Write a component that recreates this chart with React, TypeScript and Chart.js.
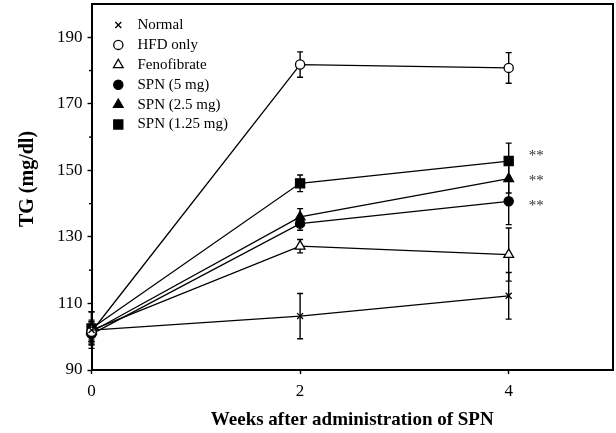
import React, { useEffect, useRef } from 'react';
import { Chart, registerables } from 'chart.js';
import { drawPoint } from 'chart.js/helpers';

Chart.register(...registerables);

const FONT = '"Liberation Serif", "Times New Roman", serif';

// ---- data ----
const weeks = [0, 2, 4];
const seriesLabels = ['Normal', 'HFD only', 'Fenofibrate', 'SPN (5 mg)', 'SPN (2.5 mg)', 'SPN (1.25 mg)'];
const normal = [102, 106.2, 112.3];
const normalErr = [5.5, 6.8, 7];
const hfdOnly = [101.5, 181.8, 180.8];
const hfdOnlyErr = [3, 3.8, 4.6];
const fenofibrate = [102, 127.2, 124.7];
const fenofibrateErr = [3, 2, 8];
const spn5 = [100.8, 134, 140.7];
const spn5Err = [3, 2, 7];
const spn25 = [101.5, 136, 147.5];
const spn25Err = [3, 2.5, 4.3];
const spn125 = [102.5, 146.1, 152.8];
const spn125Err = [5, 2.5, 5.4];

const yMajorTicks = [90, 110, 130, 150, 170, 190];
const yMinorTicks = [100, 120, 140, 160, 180];
const xTickValues = [0, 2, 4];
const sigWeek = 4;
const sigValues = [155.3, 147.8, 140.2];
const sigText = '**';

const yTitle = 'TG (mg/dl)';
const xTitle = 'Weeks after administration of SPN';

// ---- styles ----
const seriesValues = [normal, hfdOnly, fenofibrate, spn5, spn25, spn125];
const seriesErrors = [normalErr, hfdOnlyErr, fenofibrateErr, spn5Err, spn25Err, spn125Err];
const pointStyles = ['crossRot', 'circle', 'triangle', 'circle', 'triangle', 'rect'];
const pointFills = ['#000', '#fff', '#fff', '#000', '#000', '#000'];
const pointRadii = [4.2, 4.6, 5.6, 4.6, 5.6, 6.4];

const overlay = {
  id: 'overlay',
  beforeDatasetsDraw(chart: any) {
    const ctx = chart.ctx;
    const xs = chart.scales.x;
    const ys = chart.scales.y;
    ctx.save();
    ctx.strokeStyle = '#000';
    ctx.lineWidth = 1.4;
    seriesValues.forEach((vals, i) => {
      vals.forEach((v, j) => {
        const e = seriesErrors[i][j];
        const px = xs.getPixelForValue(weeks[j]);
        const pt = ys.getPixelForValue(v + e);
        const pb = ys.getPixelForValue(v - e);
        ctx.beginPath();
        ctx.moveTo(px, pt);
        ctx.lineTo(px, pb);
        ctx.moveTo(px - 3, pt);
        ctx.lineTo(px + 3, pt);
        ctx.moveTo(px - 3, pb);
        ctx.lineTo(px + 3, pb);
        ctx.stroke();
      });
    });
    ctx.restore();
  },
  afterDraw(chart: any) {
    const ctx = chart.ctx;
    const a = chart.chartArea;
    const xs = chart.scales.x;
    const ys = chart.scales.y;
    ctx.save();
    // top and right border
    ctx.strokeStyle = '#000';
    ctx.lineWidth = 2;
    ctx.beginPath();
    ctx.moveTo(a.left, a.top);
    ctx.lineTo(a.right, a.top);
    ctx.lineTo(a.right, a.bottom);
    ctx.stroke();
    // minor ticks
    ctx.lineWidth = 1.4;
    yMinorTicks.forEach((v) => {
      const py = ys.getPixelForValue(v);
      ctx.beginPath();
      ctx.moveTo(a.left - 2.5, py);
      ctx.lineTo(a.left, py);
      ctx.stroke();
    });
    // legend
    ctx.font = `15px ${FONT}`;
    ctx.textBaseline = 'middle';
    ctx.textAlign = 'left';
    seriesLabels.forEach((lab, i) => {
      const y = a.top + 21 + i * 19.9;
      const x = a.left + 26.8;
      ctx.fillStyle = pointFills[i];
      ctx.strokeStyle = '#000';
      ctx.lineWidth = 1.3;
      drawPoint(ctx, { pointStyle: pointStyles[i], radius: pointRadii[i], rotation: 0, borderWidth: 1.3 } as any, x, y);
      ctx.fillStyle = '#000';
      ctx.fillText(lab, a.left + 46, y);
    });
    // significance marks
    ctx.fillStyle = '#333';
    ctx.font = `15px ${FONT}`;
    ctx.textAlign = 'left';
    ctx.textBaseline = 'middle';
    sigValues.forEach((v) => {
      ctx.fillText(sigText, xs.getPixelForValue(sigWeek) + 20, ys.getPixelForValue(v) + 3);
    });
    // axis titles
    ctx.fillStyle = '#000';
    ctx.font = `bold 19px ${FONT}`;
    ctx.textAlign = 'center';
    ctx.textBaseline = 'middle';
    ctx.fillText(xTitle, (a.left + a.right) / 2, 420);
    ctx.translate(28, 179);
    ctx.rotate(-Math.PI / 2);
    ctx.font = `bold 20px ${FONT}`;
    ctx.fillText(yTitle, 0, 0);
    ctx.restore();
  },
};

export default function App() {
  const ref = useRef<HTMLCanvasElement | null>(null);
  useEffect(() => {
    if (!ref.current) return;
    const chart = new Chart(ref.current, {
      type: 'line',
      data: {
        datasets: seriesLabels.map((lab, i) => ({
          label: lab,
          data: seriesValues[i].map((v, j) => ({ x: weeks[j], y: v })),
          borderColor: '#000',
          borderWidth: 1.3,
          backgroundColor: pointFills[i],
          pointStyle: pointStyles[i] as any,
          pointRadius: pointRadii[i],
          pointBorderColor: '#000',
          pointBackgroundColor: pointFills[i],
          pointBorderWidth: 1.3,
          tension: 0,
          fill: false,
          clip: false as any,
        })),
      },
      options: {
        responsive: false,
        animation: false,
        events: [],
        layout: { autoPadding: false, padding: { top: 4, right: 3, left: 0, bottom: 0 } },
        plugins: { legend: { display: false }, tooltip: { enabled: false }, title: { display: false } },
        scales: {
          x: {
            type: 'linear',
            min: 0,
            max: 5,
            afterFit: (s: any) => { s.height = 63; s.paddingLeft = 0; s.paddingRight = 0; },
            afterBuildTicks: (s: any) => { s.ticks = xTickValues.map((v) => ({ value: v })); },
            ticks: { font: { family: FONT, size: 17 }, color: '#000', padding: 7, includeBounds: false, maxRotation: 0 },
            grid: { drawOnChartArea: false, drawTicks: true, tickLength: 4, color: '#000', tickWidth: 1.4 },
            border: { display: true, color: '#000', width: 2 },
          },
          y: {
            type: 'linear',
            min: 90,
            max: 200,
            afterFit: (s: any) => { s.width = 91.5; s.paddingTop = 0; s.paddingBottom = 0; },
            afterBuildTicks: (s: any) => { s.ticks = yMajorTicks.map((v) => ({ value: v })); },
            ticks: { font: { family: FONT, size: 17 }, color: '#000', padding: 5, includeBounds: false },
            grid: { drawOnChartArea: false, drawTicks: true, tickLength: 4, color: '#000', tickWidth: 1.4 },
            border: { display: true, color: '#000', width: 2 },
          },
        },
      },
      plugins: [overlay],
    });
    return () => chart.destroy();
  }, []);
  return (
    <div style={{ position: 'fixed', left: 0, top: 0, width: 616, height: 433, background: '#fff' }}>
      <canvas ref={ref} width={616} height={433} style={{ display: 'block' }} />
    </div>
  );
}
